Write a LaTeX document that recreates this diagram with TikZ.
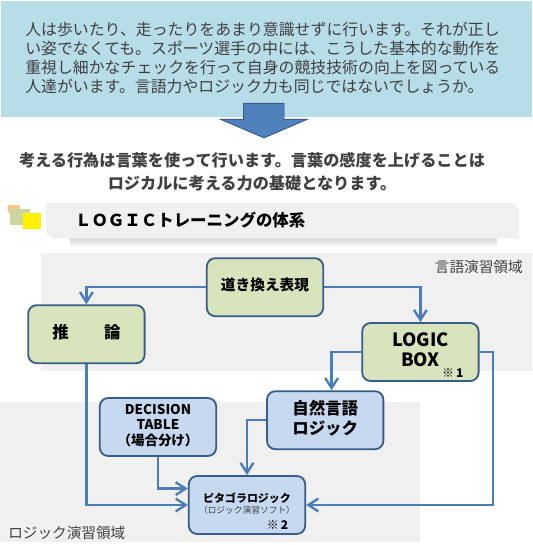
\documentclass[tikz,border=0pt]{standalone}
\usepackage{fontspec}
\setmainfont{Noto Sans CJK JP}
\usepackage{xcolor}
\usetikzlibrary{arrows.meta,positioning,calc}
\definecolor{leadblue}{HTML}{B7DDE8}
\definecolor{bandgray}{HTML}{F0F0F0}
\definecolor{boxgreen}{HTML}{D7E4BC}
\definecolor{boxblue}{HTML}{C6D9F1}
\definecolor{edgeblue}{HTML}{385D8A}
\definecolor{linkblue}{HTML}{4A7EBB}
\definecolor{arrowblue}{HTML}{4F81BD}
\definecolor{bodygray}{HTML}{404040}
\tikzset{
  lang/.style={draw=edgeblue, fill=boxgreen, line width=1.3pt, rounded corners=6pt, align=center,
               minimum width=2.91cm, minimum height=1.45cm, inner sep=0pt, font=\bfseries},
  logi/.style={draw=edgeblue, fill=boxblue, line width=1.3pt, rounded corners=6pt, align=center,
               minimum width=2.91cm, minimum height=1.45cm, inner sep=0pt, font=\bfseries},
  txt/.style={inner sep=0pt, align=center},
  link/.style={-{Straight Barb[length=2.5mm,width=3.2mm]}, draw=linkblue, line width=1.7pt}
}
\begin{document}
\begin{tikzpicture}[x=1cm,y=1cm]
  \useasboundingbox (0,0) rectangle (13.3,13.625);
  % upper part
  \fill[leadblue] (0.03,10.7) rectangle (13.3,13.6);
  \filldraw[fill=arrowblue, draw=edgeblue, line width=0.7pt] (6.09,11.04) -- (7.1,11.04) -- (7.1,10.64) -- (7.675,10.64)
    -- (6.6,10.18) -- (5.52,10.64) -- (6.09,10.64) -- cycle;
  \node[txt, align=left, text=bodygray, font=\fontsize{11.3}{13.45}\selectfont] (lead) at (6.57,12.18)
    {人は歩いたり、走ったりをあまり意識せずに行います。それが正し\\い姿でなくても。スポーツ選手の中には、こうした基本的な動作を\\重視し細かなチェックを行って自身の競技技術の向上を図っている\\人達がいます。言語力やロジック力も同じではないでしょうか。};
  \node[txt, text=bodygray, font=\fontsize{11.5}{16.6}\selectfont\bfseries] (think) at (6.3,9.33)
    {考える行為は言葉を使って行います。言葉の感度を上げることは\\ロジカルに考える力の基礎となります。};
  % title band
  \shade[top color=black!15, bottom color=white] (1.75,7.66) rectangle (12.42,7.425);
  \fill[bandgray] (1.15,8.56) -- (12.82,8.56) -- (12.975,8.41) -- (12.975,7.66) -- (1.3,7.66) -- (1.15,7.81) -- cycle;
  \fill[orange!45] (0.19,8.5) rectangle (0.5,8.3);
  \fill[boxgreen!85!olive] (0.25,8.4) rectangle (0.75,8.0);
  \fill[yellow] (0.58,8.3) rectangle (1.03,7.9);
  \node[txt, anchor=west, font=\fontsize{11.7}{14}\selectfont\bfseries] (title) at (1.87,8.125) {ＬＯＧＩＣトレーニングの体系};
  % regions
  \fill[bandgray] (1.03,7.29) rectangle (13.3,4.36);
  \fill[bandgray] (0,3.575) rectangle (10.5,0.075);
  \node[txt, text=bodygray, font=\fontsize{10.4}{12}\selectfont] (langarea) at (11.97,6.94) {言語演習領域};
  \node[txt, text=bodygray, anchor=west, font=\fontsize{10.4}{12}\selectfont] (logiarea) at (0.2,0.31) {ロジック演習領域};
  % boxes
  \node[lang, text depth=0.14cm, font=\fontsize{10.45}{12}\selectfont\bfseries] (okikae) at (6.625,6.445) {道き換え表現};
  \node[lang, text depth=0.14cm, font=\fontsize{11.7}{14}\selectfont\bfseries] (suiron) at (2.16,5.27) {推\hspace{2.15em}論};
  \node[lang, text depth=0.12cm, font=\fontsize{13}{14.2}\selectfont\bfseries] (logic) at (10.51,4.825) {LOGIC\\BOX};
  \node[logi, text depth=0.14cm, font=\fontsize{11.7}{14.2}\selectfont\bfseries] (shizen) at (8.13,3.12) {自然言語\\ロジック};
  \node[logi, text depth=0.12cm, font=\fontsize{9.6}{11}\selectfont\bfseries] (decision) at (3.95,2.95) {DECISION\\TABLE\\（場合分け）};
  \node[logi] (pyth) at (6.175,1.0) {};
  \node[txt, font=\fontsize{7.8}{9}\selectfont\bfseries] (pythname) at (6.175,1.17) {ピタゴラロジック};
  \node[txt, text=bodygray, font=\fontsize{6.2}{7}\selectfont] (pythsub) at (6.175,0.86) {（ロジック演習ソフト）};
  \node[txt, font=\fontsize{8.5}{9}\selectfont\bfseries] (mark2) at (6.94,0.5) {※\,2};
  \node[txt, font=\fontsize{8.5}{9}\selectfont\bfseries] (mark1) at (11.32,4.31) {※\,1};
  % links
  \draw[link] (okikae) -| (suiron);
  \draw[link] (okikae) -| (logic);
  \draw[link] (logic) -| ([xshift=0.16cm]shizen.north);
  \draw[link] (logic.east) -- ++(0.33,0) |- (pyth.east);
  \draw[link] (shizen) -| (pyth);
  \draw[link] (decision) |- ([yshift=0.41cm]pyth.west);
  \draw[link] (suiron) |- (pyth);
\end{tikzpicture}
\end{document}
